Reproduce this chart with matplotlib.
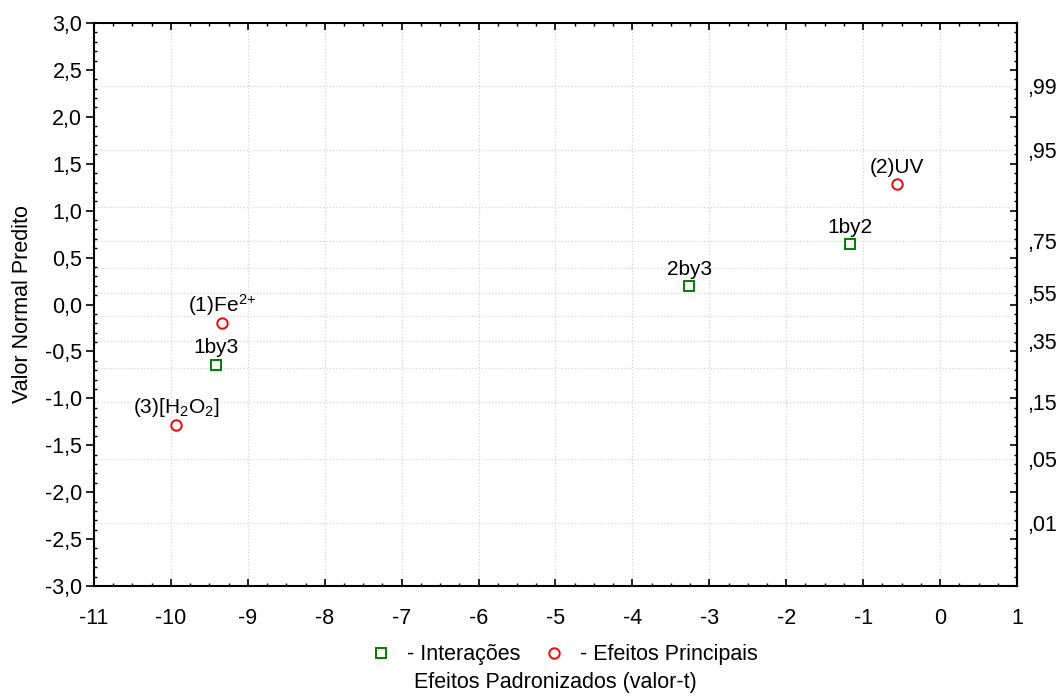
import statistics
import numpy as np
import matplotlib
matplotlib.use("Agg")
import matplotlib.pyplot as plt
from matplotlib.ticker import MultipleLocator, FuncFormatter
from matplotlib.lines import Line2D

plt.rcParams['font.family'] = ['Liberation Sans', 'DejaVu Sans']
plt.rcParams['mathtext.fontset'] = 'custom'
plt.rcParams['mathtext.rm'] = 'Liberation Sans'
plt.rcParams['mathtext.default'] = 'regular'
plt.rcParams['axes.unicode_minus'] = False

# main effects (red circles)
main_labels = [r'(3)[H$_2$O$_2$]', r'(1)Fe$^{2{+}}$', '(2)UV']
main_t = [-9.93, -9.34, -0.56]
main_z = [-1.28, -0.20, 1.28]

# interactions (green squares)
inter_labels = ['1by3', '2by3', '1by2']
inter_t = [-9.41, -3.26, -1.17]
inter_z = [-0.64, 0.20, 0.64]

# right axis: cumulative probabilities
prob_labels = [',01', ',05', ',15', ',35', ',55', ',75', ',95', ',99']
prob_values = [0.01, 0.05, 0.15, 0.35, 0.55, 0.75, 0.95, 0.99]
grid_probs = [0.01, 0.05, 0.15, 0.25, 0.35, 0.45, 0.55, 0.65, 0.75, 0.85, 0.95, 0.99]

GREEN = '#008000'
RED = '#ff0000'
FS = 15.5
FS_ANN = 15


def comma_fmt(v, pos):
    return f"{v:.1f}".replace('.', ',')


def main():
    fig = plt.figure(figsize=(10.6, 6.98), dpi=100)
    ax = fig.add_axes([0.0887, 0.1605, 0.8707, 0.8065])

    ax.plot(inter_t, inter_z, linestyle='none', marker='s', ms=7.5, mfc='none',
            mec=GREEN, mew=1.4, zorder=5)
    ax.plot(main_t, main_z, linestyle='none', marker='o', ms=7.5, mfc='none',
            mec=RED, mew=1.4, zorder=5)

    for lab, x, y in zip(main_labels + inter_labels, main_t + inter_t, main_z + inter_z):
        ax.annotate(lab, (x, y), xytext=(0, 8), textcoords='offset points',
                    ha='center', va='baseline', fontsize=FS_ANN, zorder=6)

    ax.set_xlim(-11, 1)
    ax.set_ylim(-3, 3)
    ax.xaxis.set_major_locator(MultipleLocator(1))
    ax.xaxis.set_minor_locator(MultipleLocator(0.25))
    ax.yaxis.set_major_locator(MultipleLocator(0.5))
    ax.yaxis.set_minor_locator(MultipleLocator(0.1))
    ax.yaxis.set_major_formatter(FuncFormatter(comma_fmt))

    ax.tick_params(axis='x', which='major', direction='in', length=5, width=1.2,
                   top=True, labelsize=FS, pad=16)
    ax.tick_params(axis='x', which='minor', direction='in', length=2.5, width=1,
                   top=True)
    ax.tick_params(axis='y', which='major', direction='out', length=5.5, width=1.2,
                   right=False, labelsize=FS, pad=3)
    ax.tick_params(axis='y', which='minor', direction='in', length=2, width=1,
                   right=False)
    for sp in ax.spines.values():
        sp.set_linewidth(1.5)

    # vertical grid at the integer t-values
    ax.grid(axis='x', which='major', color='#d4d4d4', linestyle=':', linewidth=0.9)

    # right side ticks (inward, no labels)
    sec = ax.secondary_yaxis('right')
    sec.yaxis.set_major_locator(MultipleLocator(0.5))
    sec.yaxis.set_minor_locator(MultipleLocator(0.1))
    sec.tick_params(which='major', direction='in', length=5, width=1.2, labelright=False)
    sec.tick_params(which='minor', direction='in', length=2, width=1)
    sec.spines['right'].set_linewidth(1.5)

    # probability labels and horizontal grid
    nd = statistics.NormalDist()
    ax2 = ax.twinx()
    ax2.set_ylim(ax.get_ylim())
    ax2.set_yticks([nd.inv_cdf(p) for p in grid_probs])
    ax2.set_yticklabels([prob_labels[prob_values.index(p)] if p in prob_values else ''
                         for p in grid_probs])
    ax2.tick_params(axis='y', length=0, labelsize=FS, pad=7)
    ax2.grid(axis='y', color='#d4d4d4', linestyle=':', linewidth=0.9)
    for sp in ax2.spines.values():
        sp.set_visible(False)
    ax.set_zorder(ax2.get_zorder() + 1)
    ax.patch.set_visible(False)

    ax.set_ylabel('Valor Normal Predito', fontsize=FS)
    ax.yaxis.set_label_coords(-0.066, 0.5)
    ax.set_xlabel('Efeitos Padronizados (valor-t)', fontsize=FS)
    ax.xaxis.set_label_coords(0.5, -0.152)

    handles = [
        Line2D([], [], linestyle='none', marker='s', ms=7.5, mfc='none', mec=GREEN, mew=1.4),
        Line2D([], [], linestyle='none', marker='o', ms=7.5, mfc='none', mec=RED, mew=1.4),
    ]
    fig.legend(handles, ['- Interações', '- Efeitos Principais'], ncol=2, frameon=False,
               loc='center', bbox_to_anchor=(0.531, 0.062), fontsize=FS,
               handlelength=1.2, handletextpad=0.6, columnspacing=1.0,
               borderpad=0, borderaxespad=0)

    fig.savefig('out.png', dpi=100)


if __name__ == '__main__':
    main()
